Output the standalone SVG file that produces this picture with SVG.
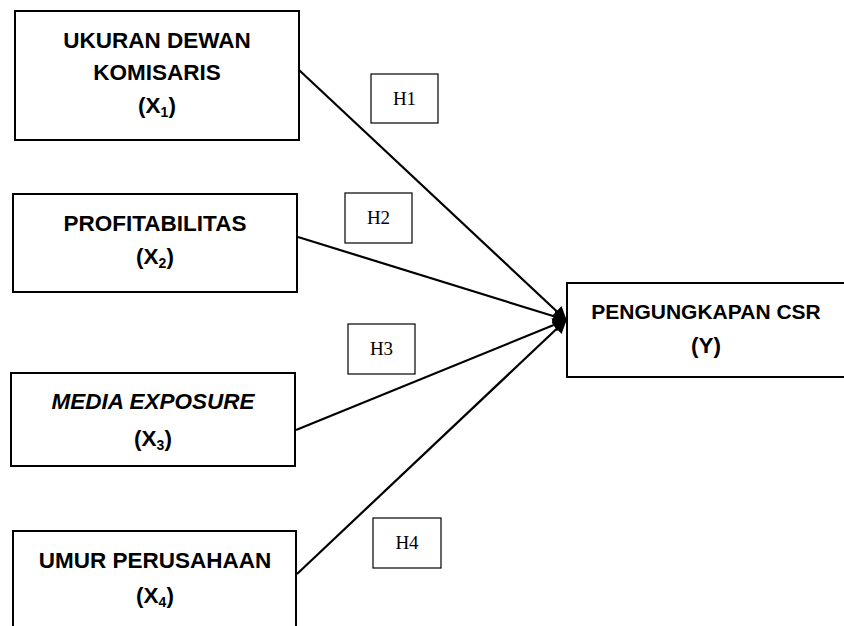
<svg xmlns="http://www.w3.org/2000/svg" width="844" height="626" viewBox="0 0 844 626">
<style>
.box{fill:#fff;stroke:#000;stroke-width:2}
.hbox{fill:#fff;stroke:#000;stroke-width:1.2}
.t{font-family:"Liberation Sans",Arial,sans-serif;font-weight:bold;font-size:22.5px;fill:#000;text-anchor:middle}
.sub{font-size:14px}
.h{font-family:"Liberation Serif","Times New Roman",serif;font-size:19px;fill:#000;text-anchor:middle}
.c{stroke:#000;stroke-width:2.2;fill:none}
</style>
<defs>
<marker id="arr" viewBox="0 0 10 10" refX="9" refY="5" markerWidth="6.5" markerHeight="6.5" orient="auto" markerUnits="strokeWidth">
<path d="M0,0 L10,5 L0,10 Z" fill="#000"/>
</marker>
</defs>
<rect width="844" height="626" fill="#fff"/>
<g id="connectors">
<line class="c" x1="299" y1="70" x2="566" y2="320" marker-end="url(#arr)"/>
<line class="c" x1="298" y1="237" x2="566" y2="320" marker-end="url(#arr)"/>
<line class="c" x1="296" y1="430" x2="566" y2="320" marker-end="url(#arr)"/>
<line class="c" x1="297" y1="574" x2="566" y2="320" marker-end="url(#arr)"/>
</g>
<g id="x1">
<rect class="box" x="15" y="11" width="284" height="129"/>
<text class="t" x="157" y="48">UKURAN DEWAN</text>
<text class="t" x="157" y="80">KOMISARIS</text>
<text class="t" x="157" y="113">(X<tspan class="sub" dy="4">1</tspan><tspan dy="-4">)</tspan></text>
</g>
<g id="x2">
<rect class="box" x="13" y="194" width="284" height="98"/>
<text class="t" x="155" y="231">PROFITABILITAS</text>
<text class="t" x="155" y="264">(X<tspan class="sub" dy="4">2</tspan><tspan dy="-4">)</tspan></text>
</g>
<g id="x3">
<rect class="box" x="11" y="373" width="284" height="93"/>
<text class="t" x="153" y="409" font-style="italic">MEDIA EXPOSURE</text>
<text class="t" x="153" y="446">(X<tspan class="sub" dy="4">3</tspan><tspan dy="-4">)</tspan></text>
</g>
<g id="x4">
<rect class="box" x="13" y="531" width="283" height="110"/>
<text class="t" x="155" y="568">UMUR PERUSAHAAN</text>
<text class="t" x="155" y="603">(X<tspan class="sub" dy="4">4</tspan><tspan dy="-4">)</tspan></text>
</g>
<g id="y">
<rect class="box" x="567" y="283" width="280" height="94"/>
<text class="t" x="706" y="319" style="font-size:21px">PENGUNGKAPAN CSR</text>
<text class="t" x="706" y="353">(Y)</text>
</g>
<g id="h1">
<rect class="hbox" x="371" y="74" width="67" height="49"/>
<text class="h" x="404.5" y="105">H1</text>
</g>
<g id="h2">
<rect class="hbox" x="345" y="193" width="67" height="50"/>
<text class="h" x="378.5" y="224">H2</text>
</g>
<g id="h3">
<rect class="hbox" x="348" y="324" width="67" height="50"/>
<text class="h" x="381.5" y="355">H3</text>
</g>
<g id="h4">
<rect class="hbox" x="373" y="518" width="68" height="50"/>
<text class="h" x="407" y="549">H4</text>
</g>
</svg>
